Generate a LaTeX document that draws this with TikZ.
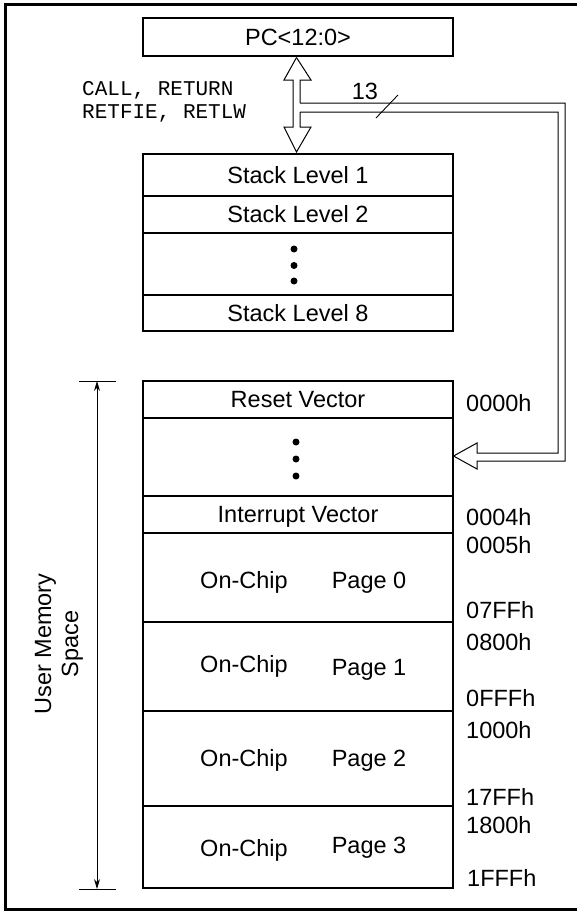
\documentclass[tikz,border=0pt]{standalone}
\usepackage{fontspec}
\setmainfont{Liberation Sans}
\newfontfamily\monof{Liberation Mono}
\usetikzlibrary{arrows.meta}
\newcommand{\lbl}{\fontsize{23.5}{27}\selectfont}
\newcommand{\monolbl}{\monof\fontsize{21}{23}\selectfont}
\begin{document}
\begin{tikzpicture}[x=1pt,y=-1pt,
  box/.style={draw, line width=1.1pt, minimum width=310pt, inner sep=0pt, font=\lbl, text height=16.5pt, text depth=0pt},
  lab/.style={inner sep=0pt, font=\lbl, text height=16.5pt, text depth=0pt},
  dotc/.style={fill=black, circle, inner sep=0pt, minimum size=7pt},
  bus/.style={line width=1pt},
  dim/.style={line width=1pt}
]
\useasboundingbox (0,0) rectangle (577,911);
\draw[line width=3pt] (5,4.5) rectangle (600,909.5);

% PC box
\node[box, minimum height=38pt] (pc) at (298,37) {PC<12:0>};

% stack
\node[box, minimum height=42pt] (s1) at (298,175) {Stack Level 1};
\node[box, minimum height=37pt] (s2) at (298,214.5) {Stack Level 2};
\node[box, minimum height=62pt] (sd) at (298,264) {};
\node[box, minimum height=36pt] (s8) at (298,313) {Stack Level 8};
\node[dotc] (sd1) at (294,249) {};
\node[dotc] (sd2) at (294,265.5) {};
\node[dotc] (sd3) at (294,281) {};

% memory
\node[box, minimum height=37pt] (rv) at (298,399.5) {Reset Vector};
\node[box, minimum height=78pt] (md) at (298,457) {};
\node[box, minimum height=37pt] (iv) at (298,514.5) {Interrupt Vector};
\node[box, minimum height=89pt] (p0) at (298,577.5) {};
\node[box, minimum height=89pt] (p1) at (298,666.5) {};
\node[box, minimum height=95pt] (p2) at (298,758.5) {};
\node[box, minimum height=82pt] (p3) at (298,847) {};
\node[dotc] (md1) at (296,442) {};
\node[dotc] (md2) at (296,459) {};
\node[dotc] (md3) at (296,476) {};

\node[lab] (p0a) at (244,580) {On-Chip};
\node[lab] (p0b) at (369,580) {Page 0};
\node[lab] (p1a) at (244,664) {On-Chip};
\node[lab] (p1b) at (369,667) {Page 1};
\node[lab] (p2a) at (244,758) {On-Chip};
\node[lab] (p2b) at (369,758) {Page 2};
\node[lab] (p3a) at (244,848) {On-Chip};
\node[lab] (p3b) at (369,845) {Page 3};

% addresses
\node[lab, anchor=west] (h0) at (466,403) {0000h};
\node[lab, anchor=west] (h4) at (466,517) {0004h};
\node[lab, anchor=west] (h5) at (466,545) {0005h};
\node[lab, anchor=west] (h7) at (466,610) {07FFh};
\node[lab, anchor=west] (h8) at (466,642) {0800h};
\node[lab, anchor=west] (hf) at (466,698) {0FFFh};
\node[lab, anchor=west] (h10) at (466,730) {1000h};
\node[lab, anchor=west] (h17) at (466,797) {17FFh};
\node[lab, anchor=west] (h18) at (466,825) {1800h};
\node[lab, anchor=west] (h1f) at (467,878) {1FFFh};

% instruction labels
\node[anchor=west, align=left, inner sep=0pt, font=\monolbl] (ins) at (82,101.5) {CALL, RETURN\\RETFIE, RETLW};

% double-headed hollow arrow between PC and stack
\draw[bus] (pc.south -| 296.5,0) ++(0,1) coordinate (tp) -- (311,80) -- (300,80) -- (300,103);
\draw[bus] (tp) -- (284,80) -- (293,80) -- (293,127) -- (284,127) -- (296.5,152) coordinate (bt) -- (311,127) -- (300,127) -- (300,112);

% bus to program memory
\coordinate (tip) at (md.east |- 0,456);
\draw[bus] (300,103) -- (565,103) -- (565,461) -- (477,461) -- (477,469) -- (tip) -- (477,443) -- (477,453) -- (558,453) -- (558,112) -- (300,112);
\draw[line width=0.9pt] (376,118) -- (398,95);
\node[inner sep=0pt, font=\lbl] (n13) at (365,91) {13};

% user memory dimension
\coordinate (dt) at (97,381);
\coordinate (db) at (97,889);
\draw[dim] (79,381) -- (116,381);
\draw[dim] (79,889) -- (116,889);
\draw[dim, {Stealth[length=10pt,width=6pt]}-{Stealth[length=10pt,width=6pt]}] (dt) -- (db);
\node[rotate=90, align=center, inner sep=0pt, font=\lbl] (ums) at (59,644) {User Memory\\Space};
\end{tikzpicture}
\end{document}
